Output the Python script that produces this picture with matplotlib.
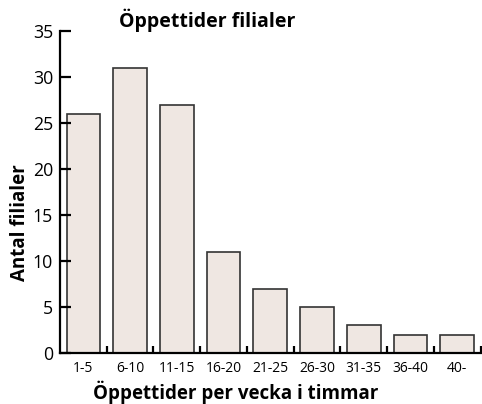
import matplotlib
matplotlib.use("Agg")
import matplotlib.pyplot as plt
import numpy as np

categories = ["1-5", "6-10", "11-15", "16-20", "21-25", "26-30", "31-35", "36-40", "40-"]
counts = [26, 31, 27, 11, 7, 5, 3, 2, 2]

plt.rcParams["font.family"] = ["Open Sans", "DejaVu Sans"]

fig = plt.figure(figsize=(4.82, 4.04), dpi=100)
ax = fig.add_axes([0.1245, 0.1262, 0.8725, 0.7971])

x = np.arange(len(categories))
ax.bar(x, counts, width=0.72, color="#efe7e2", edgecolor="#333333", linewidth=1.2)

ax.set_xlim(-0.5, len(categories) - 0.5)
ax.set_ylim(0, 35)

ax.spines["top"].set_visible(False)
ax.spines["right"].set_visible(False)
for side in ("left", "bottom"):
    ax.spines[side].set_linewidth(1.6)
    ax.spines[side].set_color("black")

ax.set_yticks(range(0, 36, 5))
ax.tick_params(axis="y", direction="in", length=8, width=1.6, labelsize=12.8, pad=5)

ax.set_xticks(x)
ax.set_xticklabels(categories)
ax.tick_params(axis="x", which="major", length=0, labelsize=10, pad=6)
ax.set_xticks(np.arange(0.5, len(categories), 1.0), minor=True)
ax.tick_params(axis="x", which="minor", direction="in", length=5, width=1.6)

fig.text(0.43, 0.95, "Öppettider filialer", ha="center", va="center",
         fontsize=14, fontweight="bold")
fig.text(0.49, 0.03, "Öppettider per vecka i timmar", ha="center", va="center",
         fontsize=13.5, fontweight="bold")
fig.text(0.041, 0.448, "Antal filialer", ha="center", va="center",
         rotation=90, fontsize=13.5, fontweight="bold")

fig.savefig("out.png", dpi=100)
